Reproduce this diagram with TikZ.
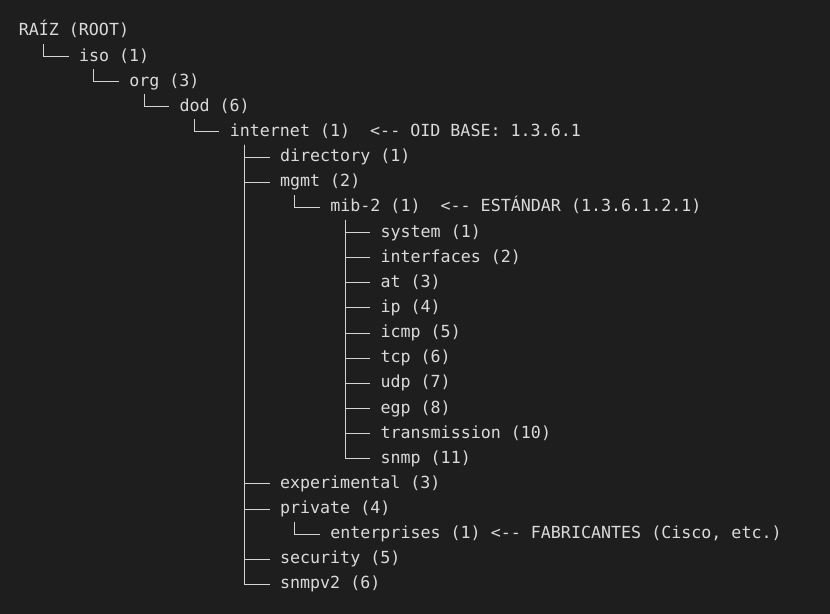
\documentclass[tikz,border=0pt]{standalone}
\usepackage{fontspec}
\setmonofont{DejaVu Sans Mono}
\usepackage{xcolor}
\usepackage{tikz}
\definecolor{termbg}{HTML}{1E1E1E}
\definecolor{termfg}{HTML}{DADADA}
\definecolor{termline}{HTML}{D4D4D4}

\begin{document}
\begin{tikzpicture}[x=7.54pt,y=-18.86pt,
  item/.style={anchor=west,inner sep=0pt,text=termfg,font=\ttfamily\fontsize{12.5}{15}\selectfont,text height=6.8pt,text depth=0pt},
  branch/.style={draw=termline,line width=.75pt,shorten >=7.54pt}]
\fill[termbg] (-1.84,-1.25) rectangle (80.75,23.16);

%% upper part of the tree
\node[item] (root) at (0,0) {RAÍZ (ROOT)};
\node[item] (iso) at (6,1) {iso (1)};
\node[item] (org) at (11,2) {org (3)};
\node[item] (dod) at (16,3) {dod (6)};
\node[item] (internet) at (21,4) {internet (1)~~<-{}- OID BASE: 1.3.6.1};
\node[item] (directory) at (26,5) {directory (1)};
\node[item] (mgmt) at (26,6) {mgmt (2)};
\node[item] (mib) at (31,7) {mib-2 (1)~~<-{}- ESTÁNDAR (1.3.6.1.2.1)};

%% mib-2 groups
\node[item] (sys) at (36,8) {system (1)};
\node[item] (ifs) at (36,9) {interfaces (2)};
\node[item] (atn) at (36,10) {at (3)};
\node[item] (ip) at (36,11) {ip (4)};
\node[item] (icmp) at (36,12) {icmp (5)};
\node[item] (tcp) at (36,13) {tcp (6)};
\node[item] (udp) at (36,14) {udp (7)};
\node[item] (egp) at (36,15) {egp (8)};
\node[item] (trans) at (36,16) {transmission (10)};
\node[item] (snmp) at (36,17) {snmp (11)};

%% rest of internet
\node[item] (experimental) at (26,18) {experimental (3)};
\node[item] (private) at (26,19) {private (4)};
\node[item] (enterprises) at (31,20) {enterprises (1) <-{}- FABRICANTES (Cisco, etc.)};
\node[item] (security) at (26,21) {security (5)};
\node[item] (snmpvii) at (26,22) {snmpv2 (6)};

%% branches
\draw[branch] (root.west) ++(2.5,.5) |- (iso.west);
\draw[branch] (iso.west) ++(1.5,.5) |- (org.west);
\draw[branch] (org.west) ++(1.5,.5) |- (dod.west);
\draw[branch] (dod.west) ++(1.5,.5) |- (internet.west);
\foreach \k in {directory,mgmt,experimental,private,security,snmpvii}
  \draw[branch] (internet.west) ++(1.5,.5) |- (\k.west);
\draw[branch] (mgmt.west) ++(1.5,.5) |- (mib.west);
\foreach \k in {sys,ifs,atn,ip,icmp,tcp,udp,egp,trans,snmp}
  \draw[branch] (mib.west) ++(1.5,.5) |- (\k.west);
\draw[branch] (private.west) ++(1.5,.5) |- (enterprises.west);
%%\draw[branch] (root.west) -- (snmpvii.west);
\end{tikzpicture}
\end{document}
